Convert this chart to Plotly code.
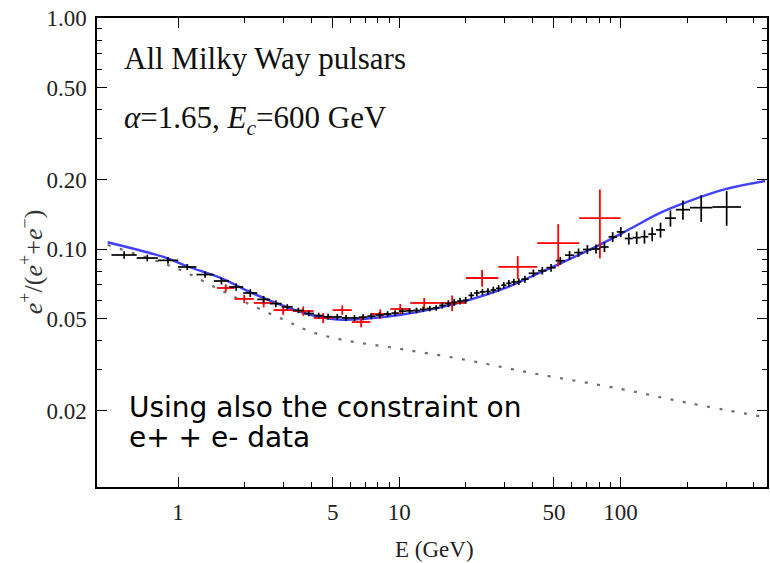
import numpy as np
import plotly.graph_objects as go

# ---------------- data ----------------
# AMS-02 positron fraction: bin edges (GeV), value, error
ams_lo = [0.50, 0.65, 0.81, 1.00, 1.21, 1.45, 1.70, 1.97, 2.28, 2.60,
          2.94, 3.30, 3.70, 4.11, 4.54, 5.00, 5.50, 6.00, 6.56, 7.16,
          7.80, 8.50, 9.21, 9.95, 10.73, 11.54, 12.39, 13.27, 14.19, 15.15,
          16.15, 17.18, 18.25, 19.37, 20.54, 21.76, 23.07, 24.45, 25.87, 27.34,
          28.87, 30.45, 32.10, 33.80, 35.58, 38.41, 42.39, 46.24, 50.87, 56.10,
          61.64, 67.63, 74.07, 80.95, 88.28, 96.12, 104.5, 113.5, 123.2, 133.5,
          144.6, 158.8, 177.8, 206.0, 260.0]
ams_hi = [0.65, 0.81, 1.00, 1.21, 1.45, 1.70, 1.97, 2.28, 2.60, 2.94,
          3.30, 3.70, 4.11, 4.54, 5.00, 5.50, 6.00, 6.56, 7.16, 7.80,
          8.50, 9.21, 9.95, 10.73, 11.54, 12.39, 13.27, 14.19, 15.15, 16.15,
          17.18, 18.25, 19.37, 20.54, 21.76, 23.07, 24.45, 25.87, 27.34, 28.87,
          30.45, 32.10, 33.80, 35.58, 38.41, 42.39, 46.24, 50.87, 56.10, 61.64,
          67.63, 74.07, 80.95, 88.28, 96.12, 104.5, 113.5, 123.2, 133.5, 144.6,
          158.8, 177.8, 206.0, 260.0, 350.0]
ams_f = [0.0942, 0.0914, 0.0893, 0.0836, 0.0775, 0.0727, 0.0685, 0.0645, 0.0605, 0.0580,
         0.0562, 0.0542, 0.0526, 0.0515, 0.0509, 0.0508, 0.0503, 0.0503, 0.0507, 0.0512,
         0.0518, 0.0523, 0.0528, 0.0538, 0.0540, 0.0542, 0.0548, 0.0552, 0.0556, 0.0570,
         0.0580, 0.0588, 0.0595, 0.0600, 0.0630, 0.0645, 0.0652, 0.0655, 0.0665, 0.0675,
         0.0697, 0.0711, 0.0720, 0.0722, 0.0740, 0.0785, 0.0805, 0.0830, 0.0890, 0.0940,
         0.0965, 0.0995, 0.1000, 0.1020, 0.1128, 0.1186, 0.1110, 0.1120, 0.1130, 0.1160,
         0.1210, 0.1360, 0.1480, 0.1510, 0.1520]
ams_err = [0.0035, 0.0030, 0.0030, 0.0025, 0.0025, 0.0025, 0.0025, 0.0025, 0.0022, 0.0020,
           0.0015, 0.0015, 0.0015, 0.0015, 0.0015, 0.0015, 0.0015, 0.0015, 0.0015, 0.0015,
           0.0015, 0.0015, 0.0015, 0.0015, 0.0015, 0.0015, 0.0015, 0.0015, 0.0015, 0.0018,
           0.0020, 0.0020, 0.0020, 0.0020, 0.0020, 0.0020, 0.0020, 0.0022, 0.0022, 0.0022,
           0.0022, 0.0024, 0.0024, 0.0024, 0.0025, 0.0030, 0.0030, 0.0032, 0.0035, 0.0040,
           0.0040, 0.0045, 0.0045, 0.0050, 0.0055, 0.0060, 0.0065, 0.0070, 0.0075, 0.0080,
           0.0090, 0.0110, 0.0140, 0.0200, 0.0260]

# PAMELA positron fraction
pam_lo = [1.5, 1.8, 2.2, 2.7, 3.3, 4.1, 5.0, 6.1, 7.4, 9.1, 11.2, 15.0, 20.0, 28.0, 42.0, 65.0]
pam_hi = [1.8, 2.2, 2.7, 3.3, 4.1, 5.0, 6.1, 7.4, 9.1, 11.2, 15.0, 20.0, 28.0, 42.0, 65.0, 100.0]
pam_f = [0.0678, 0.0608, 0.0584, 0.0544, 0.0539, 0.0503, 0.0544, 0.0483, 0.0523, 0.0550,
         0.0584, 0.0584, 0.0749, 0.0836, 0.1060, 0.1360]
pam_err = [0.0025, 0.0025, 0.0025, 0.0025, 0.0025, 0.0025, 0.0025, 0.0025, 0.0025, 0.0028,
           0.0030, 0.0045, 0.0063, 0.0095, 0.0220, 0.0450]

# pulsar + secondary model (blue)
model_E = [0.48, 0.89, 1.1, 1.6, 2.15, 3.0, 4.0, 5.5, 7.0, 10.0, 15.0, 20.0, 30.0, 40.0,
           55.0, 80.0, 110.0, 150.0, 200.0, 300.0, 450.0]
model_f = [0.107, 0.0914, 0.0842, 0.0741, 0.0646, 0.0567, 0.0518, 0.0494, 0.0499, 0.0518,
           0.0556, 0.0596, 0.0677, 0.0764, 0.0877, 0.104, 0.122, 0.143, 0.160, 0.182, 0.197]

# secondary background (dotted)
bg_E = [0.48, 0.85, 1.1, 1.5, 2.0, 3.0, 4.0, 5.5, 10.0, 20.0, 40.0, 100.0, 200.0, 450.0]
bg_f = [0.104, 0.0870, 0.0787, 0.0676, 0.0590, 0.0494, 0.0438, 0.0405, 0.0370, 0.0331,
        0.0290, 0.0248, 0.0216, 0.0187]

x_ticks = [1, 5, 10, 50, 100]
x_ticktext = ["1", "5", "10", "50", "100"]
x_minor = [2, 3, 4, 6, 7, 8, 9, 20, 30, 40, 60, 70, 80, 90, 200, 300, 400]
y_ticks = [0.02, 0.05, 0.1, 0.2, 0.5, 1.0]
y_ticktext = ["0.02", "0.05", "0.10", "0.20", "0.50", "1.00"]
y_minor = [0.03, 0.04, 0.06, 0.07, 0.08, 0.09, 0.3, 0.4, 0.6, 0.7, 0.8, 0.9]

# ---------------- figure ----------------
ams_lo_a = np.array(ams_lo); ams_hi_a = np.array(ams_hi)
ams_x = np.sqrt(ams_lo_a * ams_hi_a)
pam_lo_a = np.array(pam_lo); pam_hi_a = np.array(pam_hi)
pam_x = np.sqrt(pam_lo_a * pam_hi_a)

fig = go.Figure()

fig.add_trace(go.Scatter(x=bg_E, y=bg_f, mode="lines", line_shape="spline",
                         line=dict(color="#6e6e6e", width=2.2, dash="3px,9.5px"),
                         showlegend=False, hoverinfo="skip"))
fig.add_trace(go.Scatter(x=model_E, y=model_f, mode="lines", line_shape="spline",
                         line=dict(color="#4040ff", width=2.4),
                         showlegend=False, hoverinfo="skip"))
fig.add_trace(go.Scatter(
    x=pam_x, y=pam_f, mode="markers", marker=dict(size=2, color="#ff0000", opacity=0),
    error_x=dict(type="data", symmetric=False, array=pam_hi_a - pam_x,
                 arrayminus=pam_x - pam_lo_a, color="#ff0000", thickness=1.8, width=0),
    error_y=dict(type="data", array=pam_err, color="#ff0000", thickness=1.8, width=0),
    showlegend=False))
fig.add_trace(go.Scatter(
    x=ams_x, y=ams_f, mode="markers", marker=dict(size=2, color="black", opacity=0),
    error_x=dict(type="data", symmetric=False, array=ams_hi_a - ams_x,
                 arrayminus=ams_x - ams_lo_a, color="black", thickness=1.7, width=0),
    error_y=dict(type="data", array=ams_err, color="black", thickness=1.7, width=0),
    showlegend=False))

L, R, T, B = 97, 1, 18, 76
W, H = 770, 563
pw, ph = W - L - R, H - T - B

def px(xp):
    return (xp - L) / pw

def py(yp):
    return (H - B - yp) / ph

serif = "Liberation Serif"
axis_common = dict(type="log", showgrid=False, zeroline=False, showline=True,
                   linecolor="black", linewidth=1.5, mirror="allticks",
                   ticks="inside", ticklen=10, tickwidth=1.2, tickcolor="black",
                   ticklabelstandoff=4,
                   tickfont=dict(family=serif, size=23, color="#222222"))

fig.update_layout(
    width=W, height=H, margin=dict(l=L, r=R, t=T, b=B),
    paper_bgcolor="white", plot_bgcolor="white",
    xaxis=dict(range=[np.log10(0.43), np.log10(459)], tickvals=x_ticks, ticktext=x_ticktext,
               minor=dict(tickvals=x_minor, ticks="inside", ticklen=5, tickwidth=1,
                          tickcolor="black"),
               **axis_common),
    yaxis=dict(range=[-2.0303, 0], tickvals=y_ticks, ticktext=y_ticktext,
               minor=dict(tickvals=y_minor, ticks="inside", ticklen=5, tickwidth=1,
                          tickcolor="black"),
               **axis_common),
)

annots = [
    dict(text="All Milky Way pulsars", x=px(122), y=py(58), xanchor="left", yanchor="middle",
         font=dict(family=serif, size=31, color="#111111")),
    dict(text="<i>α</i>=1.65, <i>E<sub>c</sub></i>=600 GeV", x=px(122), y=py(120),
         xanchor="left", yanchor="middle", font=dict(family=serif, size=31, color="#111111")),
    dict(text="Using also the constraint on", x=px(127), y=py(407), xanchor="left",
         yanchor="middle", font=dict(family="DejaVu Sans", size=28, color="black")),
    dict(text="e+ + e- data", x=px(127), y=py(437), xanchor="left",
         yanchor="middle", font=dict(family="DejaVu Sans", size=28, color="black")),
    dict(text="E (GeV)", x=px(436), y=py(549), xanchor="center", yanchor="middle",
         font=dict(family=serif, size=23, color="#222222")),
    dict(text="<i>e</i><sup>+</sup>/(<i>e</i><sup>+</sup>+<i>e</i><sup>−</sup>)",
         x=px(31), y=py(262), xanchor="center", yanchor="middle", textangle=-90,
         font=dict(family=serif, size=26, color="#333333")),
]
for a in annots:
    a.update(xref="paper", yref="paper", showarrow=False)
fig.update_layout(annotations=annots)

fig.write_html("out.html", config={"displayModeBar": False},
               post_script="document.body.style.margin='0px';"
                           "document.body.style.overflow='hidden';")
